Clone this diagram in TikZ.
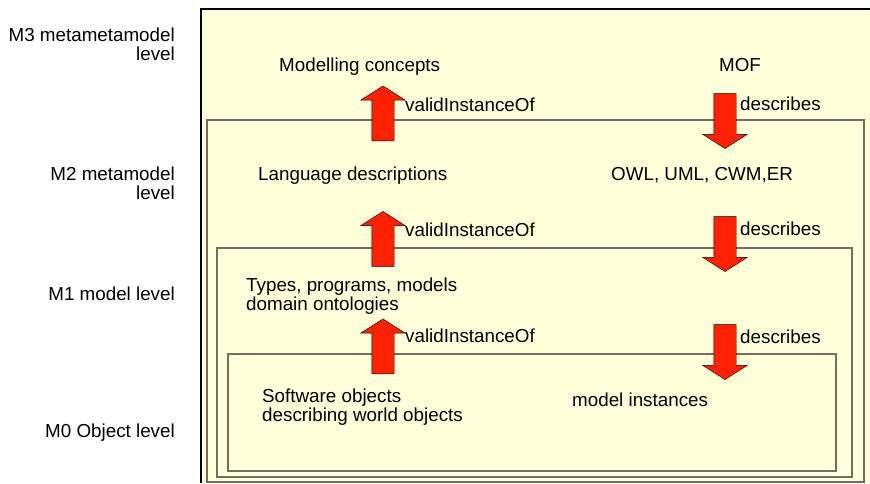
\documentclass[tikz,border=0pt]{standalone}
\usepackage{fontspec}
\setmainfont{Liberation Sans}
\usetikzlibrary{shapes.arrows}
\definecolor{paleyellow}{RGB}{255,255,218}
\definecolor{arrowred}{RGB}{255,34,0}
\definecolor{boxgray}{RGB}{110,110,100}

\begin{document}
\begin{tikzpicture}[x=1pt, y=-1pt,
    lvl/.style={anchor=base east, align=right, inner sep=0pt, font=\fontsize{18.8}{18.5}\selectfont},
    txt/.style={anchor=base west, align=left, inner sep=0pt, font=\fontsize{18.8}{19.5}\selectfont},
    blockarrow/.style={single arrow, draw=black, fill=arrowred, minimum height=55pt,
      inner xsep=0pt, inner ysep=11pt, single arrow head extend=11pt, single arrow tip angle=115},
    uparr/.style={blockarrow, rotate=90},
    downarr/.style={blockarrow, rotate=-90},
    levelbox/.style={draw=boxgray, line width=1.5pt}
    ]
  \useasboundingbox (0,0) rectangle (870,483);
  % level boxes
  \fill[paleyellow] (201,9) rectangle (870,483);
  \draw[line width=1.5pt] (201,483) |- (870,9);
  \draw[levelbox] (207,120) rectangle (864,482);
  \draw[levelbox] (217,248) rectangle (852,477);
  \draw[levelbox] (228,354) rectangle (836,471);

  % level names
  \node[lvl] (m3) at (175,60) {M3 metametamodel\\level};
  \node[lvl] (m2) at (175,199) {M2 metamodel\\level};
  \node[lvl] (m1) at (175,300) {M1 model level};
  \node[lvl] (m0) at (175,437) {M0 Object level};

  % contents
  \node[txt] (concepts) at (279,71.7) {Modelling concepts};
  \node[txt] (mof) at (719,71.7) {MOF};
  \node[txt] (langdesc) at (258,180) {Language descriptions};
  \node[txt] (owl) at (611,180) {OWL, UML, CWM,ER};
  \node[txt] (types) at (246,310.7) {Types, programs, models\\domain ontologies};
  \node[txt] (software) at (262,421.7) {Software objects\\describing world objects};
  \node[txt] (instances) at (572,406.7) {model instances};

  % arrows
  \node[uparr] (up3) at (383,117) {};
  \node[uparr] (up2) at (383,242.5) {};
  \node[uparr] (up1) at (383,350) {};
  \node[downarr] (down3) at (725,117.5) {};
  \node[downarr] (down2) at (725,240.5) {};
  \node[downarr] (down1) at (725,348.5) {};
  \node[txt] (valid3) at (405,111) {validInstanceOf};
  \node[txt] (valid2) at (405,236) {validInstanceOf};
  \node[txt] (valid1) at (405,342.7) {validInstanceOf};
  \node[txt] (desc3) at (740,110) {describes};
  \node[txt] (desc2) at (740,235) {describes};
  \node[txt] (desc1) at (740,343) {describes};
\end{tikzpicture}
\end{document}
